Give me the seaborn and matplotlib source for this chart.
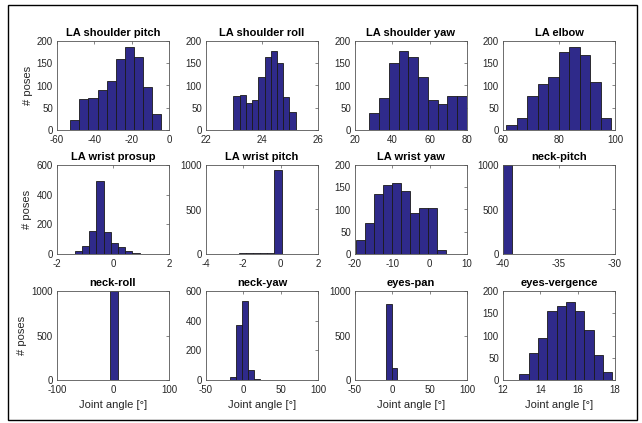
import numpy as np
import pandas as pd
import matplotlib
matplotlib.use("Agg")
import matplotlib.pyplot as plt
import seaborn as sns
from matplotlib.patches import Rectangle

# ---------------- data ----------------
titles = ["LA shoulder pitch", "LA shoulder roll", "LA shoulder yaw", "LA elbow",
          "LA wrist prosup", "LA wrist pitch", "LA wrist yaw", "neck-pitch",
          "neck-roll", "neck-yaw", "eyes-pan", "eyes-vergence"]

# histogram bin range (first edge, last edge) for each joint (10 bins each)
bin_ranges = [(-52.9, -4.1), (22.98, 25.2), (27.7, 80.0), (61.2, 98.7),
              (-1.37, 1.21), (-3.76, 0.05), (-19.8, 4.5), (-40.0, -32.0),
              (-69.6, 60.4), (-25.3, 54.7), (-23.6, 52.4), (12.88, 17.86)]

counts_shoulder_pitch = [23, 69, 73, 90, 110, 160, 187, 164, 96, 37]
counts_shoulder_roll = [77, 78, 60, 67, 119, 165, 178, 151, 75, 40]
counts_shoulder_yaw = [39, 73, 151, 177, 165, 118, 67, 58, 77, 76]
counts_elbow = [12, 28, 77, 104, 120, 176, 186, 169, 108, 27]
counts_wrist_prosup = [22, 51, 152, 490, 150, 72, 45, 20, 7, 2]
counts_wrist_pitch = [2, 3, 3, 5, 6, 8, 10, 12, 11, 940]
counts_wrist_yaw = [31, 69, 134, 154, 159, 142, 93, 104, 104, 10]
counts_neck_pitch = [997, 0, 0, 0, 0, 0, 1, 1, 0, 1]
counts_neck_roll = [1, 0, 0, 0, 0, 998, 0, 0, 0, 1]
counts_neck_yaw = [2, 22, 371, 535, 65, 4, 1, 0, 0, 1]
counts_eyes_pan = [1, 1, 850, 140, 2, 0, 0, 0, 0, 1]
counts_eyes_vergence = [13, 60, 94, 154, 167, 176, 156, 112, 56, 18]

all_counts = [counts_shoulder_pitch, counts_shoulder_roll, counts_shoulder_yaw,
              counts_elbow, counts_wrist_prosup, counts_wrist_pitch,
              counts_wrist_yaw, counts_neck_pitch, counts_neck_roll,
              counts_neck_yaw, counts_eyes_pan, counts_eyes_vergence]

xlims = [(-60, 0), (22, 26), (20, 80), (60, 100), (-2, 2), (-4, 2), (-20, 10),
         (-40, -30), (-100, 100), (-50, 100), (-50, 100), (12, 18)]
xticks = [[-60, -40, -20, 0], [22, 24, 26], [20, 40, 60, 80], [60, 80, 100],
          [-2, 0, 2], [-4, -2, 0, 2], [-20, -10, 0, 10], [-40, -35, -30],
          [-100, 0, 100], [-50, 0, 50, 100], [-50, 0, 50, 100], [12, 14, 16, 18]]
ylims = [200, 200, 200, 200, 600, 1000, 200, 1000, 1000, 600, 1000, 200]
yticks = [[0, 50, 100, 150, 200]] * 4 + [[0, 200, 400, 600], [0, 500, 1000],
          [0, 50, 100, 150, 200], [0, 500, 1000], [0, 500, 1000],
          [0, 200, 400, 600], [0, 500, 1000], [0, 50, 100, 150, 200]]

ylabel_text = "# poses"
xlabel_text = "Joint angle [°]"

# ---------------- style ----------------
sns.set_style("white")
plt.rcParams["font.family"] = ["Liberation Sans", "DejaVu Sans"]
plt.rcParams["axes.unicode_minus"] = False

BAR = "#2F2A8A"
EDGE = "#1a1a1a"
AX = "#555555"
TXT = "#262626"

W, H = 642, 423
fig = plt.figure(figsize=(W / 100, H / 100), dpi=100)

col_left = [57, 206, 355, 503]
row_top = [41, 165, 291]
aw, ah = 112, 89

for i in range(12):
    r, c = divmod(i, 4)
    ax = fig.add_axes([col_left[c] / W, 1 - (row_top[r] + ah) / H, aw / W, ah / H])
    lo, hi = bin_ranges[i]
    nb = len(all_counts[i])
    w = (hi - lo) / nb
    centres = lo + w * (np.arange(nb) + 0.5)
    df = pd.DataFrame({"angle": centres, "n": all_counts[i]})
    sns.histplot(data=df, x="angle", weights="n", bins=nb, binrange=(lo, hi),
                 ax=ax, color=BAR, edgecolor=EDGE, linewidth=0.6, alpha=1.0)
    ax.set_xlim(*xlims[i])
    ax.set_ylim(0, ylims[i])
    ax.set_xticks(xticks[i])
    ax.set_yticks(yticks[i])
    ax.set_title(titles[i], fontsize=8, fontweight="bold", color="black", pad=3.5)
    ax.set_xlabel(xlabel_text if r == 2 else "", fontsize=8, color=TXT, labelpad=4)
    ax.set_ylabel(ylabel_text if c == 0 else "", fontsize=8, color=TXT, labelpad=3)
    ax.tick_params(axis="both", which="both", direction="in", length=2, width=0.5,
                   colors=AX, labelcolor=TXT, labelsize=7, top=True, right=True)
    ax.tick_params(axis="x", pad=3.5)
    ax.tick_params(axis="y", pad=3)
    for s in ax.spines.values():
        s.set_color(AX)
        s.set_linewidth(0.6)

# outer frame
fig.patches.append(Rectangle((8 / W, 1 - 420 / H), (637 - 8) / W, (420 - 5) / H,
                             transform=fig.transFigure, fill=False,
                             edgecolor="black", linewidth=1.0))

fig.savefig("out.png", dpi=100)
